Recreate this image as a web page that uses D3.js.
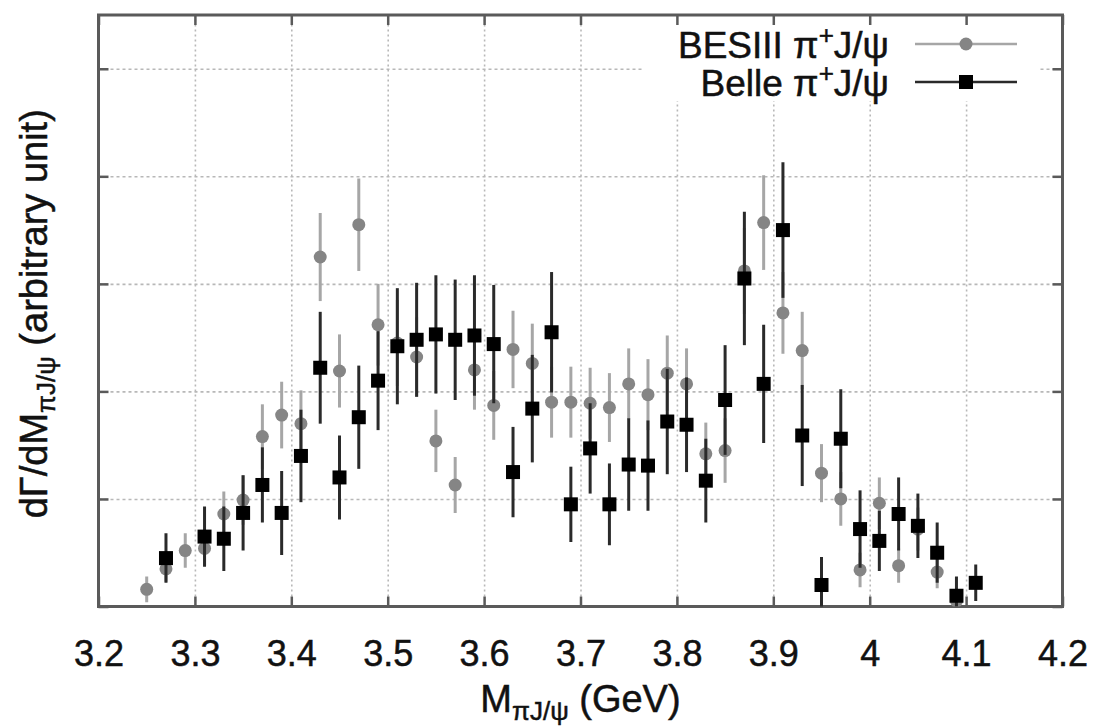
<!DOCTYPE html>
<html>
<head>
<meta charset="utf-8">
<script src="https://cdn.jsdelivr.net/npm/d3@7"></script>
<style>
  html, body { margin: 0; padding: 0; background: #fff; }
  svg { display: block; font-family: "Liberation Sans", Arial, Helvetica, sans-serif; }
</style>
</head>
<body>
<svg id="chart" width="1099" height="727"></svg>
<script>
// BESIII pi+ J/psi spectrum: bin centre (GeV), value, error (arbitrary unit)
const besMass  = [3.25, 3.27, 3.29, 3.31, 3.33, 3.35, 3.37, 3.39, 3.41, 3.43, 3.45, 3.47, 3.49, 3.51, 3.53,
                  3.55, 3.57, 3.59, 3.61, 3.63, 3.65, 3.67, 3.69, 3.71, 3.73, 3.75, 3.77, 3.79, 3.81, 3.83,
                  3.85, 3.87, 3.89, 3.91, 3.93, 3.95, 3.97, 3.99, 4.01, 4.03, 4.05, 4.07, 4.09];
const besValue = [0.16, 0.35, 0.52, 0.54, 0.86, 0.99, 1.58, 1.78, 1.70, 3.25, 2.19, 3.55, 2.62, 2.45, 2.32,
                  1.54, 1.13, 2.20, 1.87, 2.39, 2.26, 1.90, 1.90, 1.89, 1.85, 2.07, 1.97, 2.17, 2.07, 1.42,
                  1.45, 3.12, 3.57, 2.73, 2.38, 1.24, 1.00, 0.34, 0.96, 0.38, 0.72, 0.32, 0.05];
const besError = [0.12, 0.12, 0.16, 0.16, 0.21, 0.23, 0.30, 0.31, 0.31, 0.41, 0.34, 0.43, 0.38, 0.40, 0.37,
                  0.29, 0.26, 0.37, 0.32, 0.36, 0.37, 0.33, 0.33, 0.33, 0.32, 0.33, 0.33, 0.35, 0.33, 0.29,
                  0.30, 0.40, 0.44, 0.38, 0.36, 0.27, 0.25, 0.16, 0.24, 0.16, 0.20, 0.15, 0.10];

// Belle pi+ J/psi spectrum
const belleMass  = [3.27, 3.31, 3.33, 3.35, 3.37, 3.39, 3.41, 3.43, 3.45, 3.47, 3.49, 3.51, 3.53, 3.55,
                    3.57, 3.59, 3.61, 3.63, 3.65, 3.67, 3.69, 3.71, 3.73, 3.75, 3.77, 3.79, 3.81, 3.83,
                    3.85, 3.87, 3.89, 3.91, 3.93, 3.95, 3.97, 3.99, 4.01, 4.03, 4.05, 4.07, 4.09, 4.11];
const belleValue = [0.45, 0.65, 0.63, 0.87, 1.13, 0.87, 1.40, 2.22, 1.20, 1.76, 2.10, 2.42, 2.48, 2.53,
                    2.48, 2.52, 2.44, 1.25, 1.84, 2.55, 0.95, 1.47, 0.95, 1.32, 1.31, 1.72, 1.69, 1.17,
                    1.92, 3.05, 2.07, 3.50, 1.59, 0.20, 1.56, 0.72, 0.61, 0.86, 0.75, 0.50, 0.10, 0.22];
const belleError = [0.23, 0.28, 0.30, 0.35, 0.35, 0.39, 0.43, 0.52, 0.39, 0.48, 0.46, 0.54, 0.53, 0.55,
                    0.56, 0.56, 0.55, 0.42, 0.50, 0.56, 0.35, 0.42, 0.38, 0.43, 0.42, 0.49, 0.44, 0.39,
                    0.51, 0.62, 0.55, 0.63, 0.47, 0.26, 0.46, 0.36, 0.28, 0.34, 0.30, 0.28, 0.18, 0.17];

// Axis ticks
const xTicks = [3.2, 3.3, 3.4, 3.5, 3.6, 3.7, 3.8, 3.9, 4.0, 4.1, 4.2];
const xTickLabels = ["3.2", "3.3", "3.4", "3.5", "3.6", "3.7", "3.8", "3.9", "4", "4.1", "4.2"];
const yTicks = [0, 1, 2, 3, 4, 5];

const svg = d3.select("#chart");
const plot = { left: 98.5, right: 1062.5, top: 15, bottom: 606.5 };
const W = plot.right - plot.left, H = plot.bottom - plot.top;

const x = d3.scaleLinear().domain([3.2, 4.2]).range([plot.left, plot.right]);
const y = d3.scaleLinear().domain([0, 5.5]).range([plot.bottom, plot.top]);

const frameColor = "#5a5a5a";
const gridColor = "#b8b8b8";
const textColor = "#111";
const textStroke = 0.5;

svg.append("defs").append("clipPath").attr("id", "plotClip")
  .append("rect").attr("x", plot.left).attr("y", plot.top).attr("width", W).attr("height", H);

// Dotted grid
const grid = svg.append("g").attr("class", "grid");
grid.append("g")
  .attr("transform", `translate(0,${plot.bottom})`)
  .call(d3.axisBottom(x).tickValues(xTicks.slice(1, -1)).tickSize(-H).tickFormat(""))
  .call(g => g.select(".domain").remove())
  .call(g => g.selectAll("line").attr("stroke", gridColor).attr("stroke-width", 1.6).attr("stroke-dasharray", "2,3"));
grid.append("g")
  .attr("transform", `translate(${plot.left},0)`)
  .call(d3.axisLeft(y).tickValues(yTicks.slice(1)).tickSize(-W).tickFormat(""))
  .call(g => g.select(".domain").remove())
  .call(g => g.selectAll("line").attr("stroke", gridColor).attr("stroke-width", 1.6).attr("stroke-dasharray", "3,3"));

// Legend box covers the grid
const legendBox = { x0: 642, x1: 1038, y1: 101 };
svg.append("rect")
  .attr("x", legendBox.x0).attr("y", plot.top)
  .attr("width", legendBox.x1 - legendBox.x0).attr("height", legendBox.y1 - plot.top)
  .attr("fill", "#fff");

// Inward ticks on all four sides
const tickLen = 10;
function styleTicks(g) {
  g.select(".domain").remove();
  g.selectAll("line").attr("stroke", frameColor).attr("stroke-width", 2.5);
}
svg.append("g").attr("transform", `translate(0,${plot.bottom})`)
  .call(d3.axisBottom(x).tickValues(xTicks).tickSize(-tickLen)
        .tickFormat((d, i) => xTickLabels[i]).tickPadding(34))
  .call(styleTicks)
  .call(g => g.selectAll("text").attr("font-size", 36).attr("fill", textColor)
        .attr("stroke", textColor).attr("stroke-width", textStroke)
        .attr("font-family", "Liberation Sans, Arial, sans-serif"));
svg.append("g").attr("transform", `translate(0,${plot.top})`)
  .call(d3.axisTop(x).tickValues(xTicks).tickSize(-tickLen).tickFormat(""))
  .call(styleTicks);
svg.append("g").attr("transform", `translate(${plot.left},0)`)
  .call(d3.axisLeft(y).tickValues(yTicks).tickSize(-tickLen).tickFormat(""))
  .call(styleTicks);
svg.append("g").attr("transform", `translate(${plot.right},0)`)
  .call(d3.axisRight(y).tickValues(yTicks).tickSize(-tickLen).tickFormat(""))
  .call(styleTicks);

// Frame
svg.append("rect")
  .attr("x", plot.left).attr("y", plot.top).attr("width", W).attr("height", H)
  .attr("fill", "none").attr("stroke", frameColor).attr("stroke-width", 3);

// Data
const bes = besMass.map((m, i) => ({ m, v: besValue[i], e: besError[i] }));
const belle = belleMass.map((m, i) => ({ m, v: belleValue[i], e: belleError[i] }));

const data = svg.append("g").attr("clip-path", "url(#plotClip)");

const besColor = "#858585", besBarColor = "#a6a6a6";
const belleColor = "#000", belleBarColor = "#2a2a2a";

const besG = data.append("g");
besG.selectAll("line").data(bes).join("line")
  .attr("x1", d => x(d.m)).attr("x2", d => x(d.m))
  .attr("y1", d => y(d.v - d.e)).attr("y2", d => y(d.v + d.e))
  .attr("stroke", besBarColor).attr("stroke-width", 3);
besG.selectAll("circle").data(bes).join("circle")
  .attr("cx", d => x(d.m)).attr("cy", d => y(d.v)).attr("r", 6.5)
  .attr("fill", besColor);

const sq = 14;
const belleG = data.append("g");
belleG.selectAll("line").data(belle).join("line")
  .attr("x1", d => x(d.m)).attr("x2", d => x(d.m))
  .attr("y1", d => y(d.v - d.e)).attr("y2", d => y(d.v + d.e))
  .attr("stroke", belleBarColor).attr("stroke-width", 3);
belleG.selectAll("rect").data(belle).join("rect")
  .attr("x", d => x(d.m) - sq / 2).attr("y", d => y(d.v) - sq / 2)
  .attr("width", sq).attr("height", sq).attr("fill", belleColor);

// Legend
const legend = svg.append("g").attr("font-size", 37).attr("fill", textColor)
  .attr("stroke", textColor).attr("stroke-width", textStroke);
const legendRows = [
  { name: "BESIII", y: 44, color: besColor, bar: besBarColor, shape: "circle" },
  { name: "Belle", y: 82, color: belleColor, bar: belleBarColor, shape: "square" }
];
legendRows.forEach(r => {
  const t = legend.append("text").attr("x", 889).attr("y", r.y + 14).attr("text-anchor", "end");
  t.append("tspan").text(r.name + " \u03c0");
  t.append("tspan").attr("font-size", 26).attr("dy", -14).text("+");
  t.append("tspan").attr("dy", 14).text("J/\u03c8");
  legend.append("line").attr("x1", 915).attr("x2", 1017).attr("y1", r.y).attr("y2", r.y)
    .attr("stroke", r.bar).attr("stroke-width", 2.5);
  if (r.shape === "circle") {
    legend.append("circle").attr("cx", 966).attr("cy", r.y).attr("r", 6.5)
      .attr("fill", r.color).attr("stroke", "none");
  } else {
    legend.append("rect").attr("x", 966 - sq / 2).attr("y", r.y - sq / 2)
      .attr("width", sq).attr("height", sq).attr("fill", r.color).attr("stroke", "none");
  }
});

// Axis titles
const xTitle = svg.append("text").attr("x", x(3.7)).attr("y", 712)
  .attr("text-anchor", "middle").attr("font-size", 38).attr("fill", textColor)
  .attr("stroke", textColor).attr("stroke-width", textStroke);
xTitle.append("tspan").text("M");
xTitle.append("tspan").attr("font-size", 26).attr("dy", 8).text("\u03c0J/\u03c8");
xTitle.append("tspan").attr("dy", -8).text(" (GeV)");

const yTitle = svg.append("text")
  .attr("transform", `translate(47,${(plot.top + plot.bottom) / 2 + 3}) rotate(-90)`)
  .attr("text-anchor", "middle").attr("font-size", 38).attr("fill", textColor)
  .attr("stroke", textColor).attr("stroke-width", textStroke);
yTitle.append("tspan").text("d\u0393/dM");
yTitle.append("tspan").attr("font-size", 26).attr("dy", 8).text("\u03c0J/\u03c8");
yTitle.append("tspan").attr("dy", -8).text(" (arbitrary unit)");
</script>
</body>
</html>
